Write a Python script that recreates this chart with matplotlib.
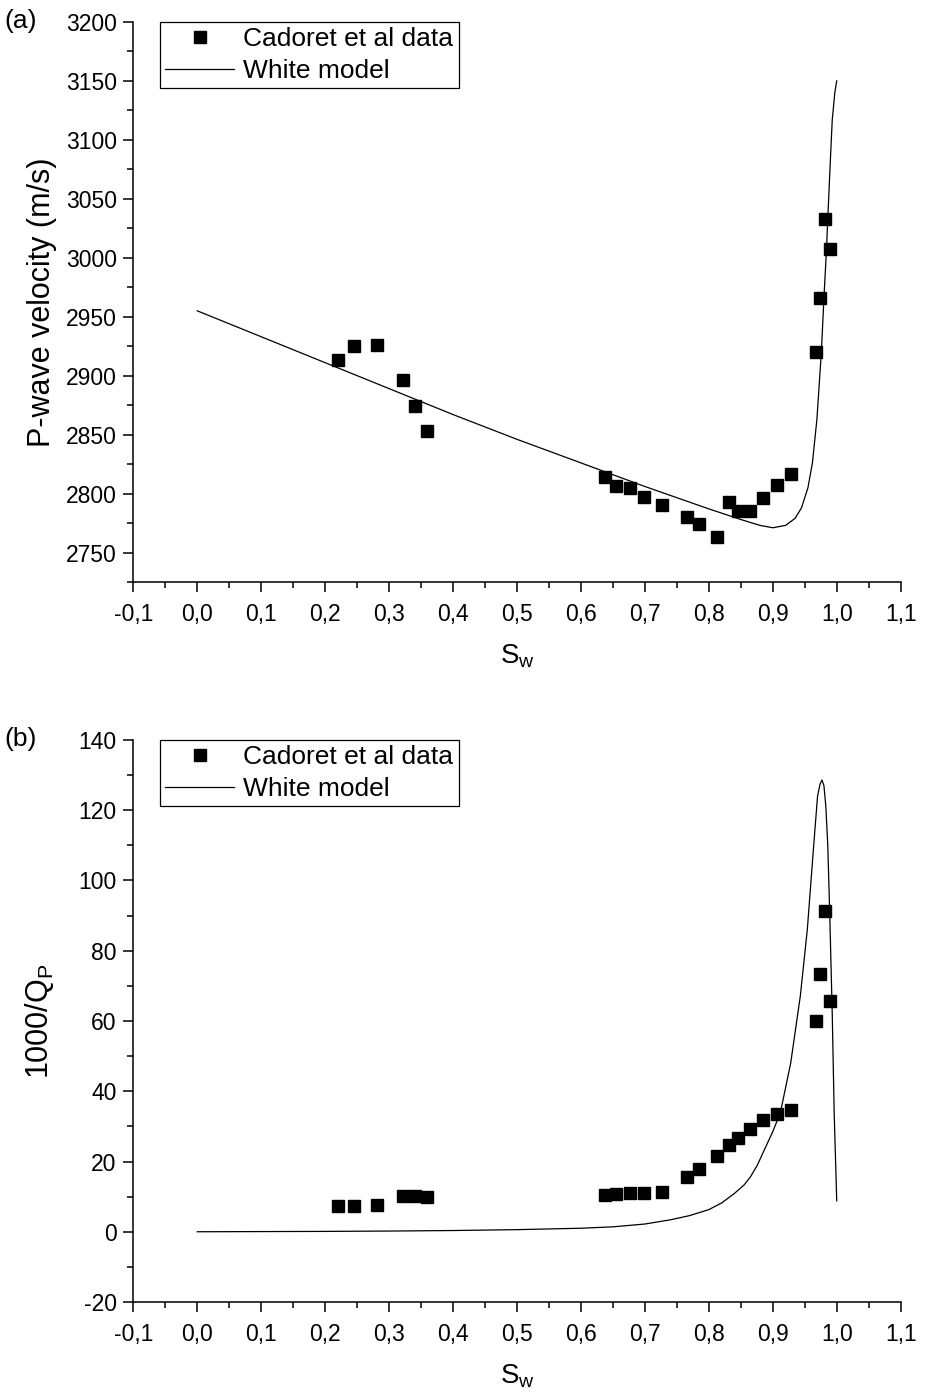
import matplotlib
matplotlib.use("Agg")
import matplotlib.pyplot as plt
from matplotlib.ticker import MultipleLocator, FuncFormatter

plt.rcParams['font.family'] = ['Liberation Sans', 'DejaVu Sans']
plt.rcParams['mathtext.default'] = 'regular'
plt.rcParams['axes.unicode_minus'] = False

# ---- data ----
sw_data = [0.220, 0.245, 0.281, 0.321, 0.341, 0.360, 0.637, 0.655, 0.677, 0.699,
           0.727, 0.766, 0.784, 0.813, 0.831, 0.846, 0.865, 0.885, 0.907, 0.928,
           0.967, 0.974, 0.982, 0.989]
vp_data = [2913, 2925, 2926, 2896, 2874, 2853, 2814, 2806, 2805, 2797,
           2790, 2780, 2774, 2763, 2793, 2785, 2785, 2796, 2807, 2817,
           2920, 2966, 3033, 3007]
q_data = [7.3, 7.4, 7.5, 10.3, 10.2, 10.0, 10.5, 10.7, 10.9, 11.0,
          11.2, 15.7, 17.9, 21.6, 24.7, 26.7, 29.3, 31.8, 33.5, 34.7,
          60.0, 73.3, 91.3, 65.7]

sw_model_v = [0.0, 0.1, 0.2, 0.3, 0.4, 0.5, 0.6, 0.7, 0.8, 0.85, 0.88, 0.9,
              0.92, 0.935, 0.945, 0.955, 0.962, 0.969, 0.976, 0.980, 0.984, 0.986,
              0.990, 0.993, 0.997, 1.0]
vp_model = [2955, 2933, 2911, 2889, 2867, 2846, 2826, 2806, 2787, 2778, 2773, 2771,
            2773, 2779, 2788, 2805, 2826, 2863, 2920, 2966, 3007, 3033,
            3082, 3117, 3140, 3150]

sw_model_q = [0.0, 0.1, 0.2, 0.3, 0.4, 0.5, 0.6, 0.65, 0.7, 0.74, 0.77, 0.8, 0.82,
              0.84, 0.855, 0.865, 0.876, 0.886, 0.9, 0.912, 0.928, 0.943, 0.954,
              0.964, 0.970, 0.974, 0.977, 0.980, 0.983, 0.986, 0.989, 0.993,
              0.996, 1.0]
q_model = [0.0, 0.05, 0.1, 0.2, 0.35, 0.6, 1.0, 1.4, 2.2, 3.4, 4.6, 6.3, 8.2,
           10.9, 13.3, 15.6, 19.0, 23.0, 28.5, 34.0, 48.0, 67.0, 86.0,
           110.0, 124.0, 127.5, 128.6, 127.0, 121.0, 110.0, 91.0, 62.0,
           34.0, 8.8]

x_ticks = [-0.1, 0.0, 0.1, 0.2, 0.3, 0.4, 0.5, 0.6, 0.7, 0.8, 0.9, 1.0, 1.1]

fig = plt.figure(figsize=(9.25, 13.97), dpi=100)
ax1 = fig.add_axes([0.1441, 0.5834, 0.8296, 0.4009])
ax2 = fig.add_axes([0.1441, 0.0680, 0.8296, 0.4023])

comma = FuncFormatter(lambda v, p: ("%.1f" % v).replace('.', ',').replace('-0,0', '0,0'))

def style(ax):
    for s in ['top', 'right']:
        ax.spines[s].set_visible(False)
    for s in ['left', 'bottom']:
        ax.spines[s].set_linewidth(1.1)
    ax.set_xlim(-0.1, 1.1)
    ax.set_xticks(x_ticks)
    ax.xaxis.set_minor_locator(MultipleLocator(0.05))
    ax.xaxis.set_major_formatter(comma)
    ax.tick_params(which='major', direction='out', length=7, width=1.1, labelsize=16.5, pad=5)
    ax.tick_params(axis='x', which='major', pad=8)
    ax.tick_params(which='minor', direction='out', length=4, width=1.1)
    ax.set_xlabel('S$_w$', fontsize=20, labelpad=12)

style(ax1)
ax1.plot(sw_data, vp_data, 's', color='black', markersize=9, label='Cadoret et al data', clip_on=False)
ax1.plot(sw_model_v, vp_model, '-', color='black', linewidth=0.9, label='White model')
ax1.set_ylim(2725, 3200)
ax1.yaxis.set_major_locator(MultipleLocator(50))
ax1.yaxis.set_minor_locator(MultipleLocator(25))
ax1.set_ylabel('P-wave velocity (m/s)', fontsize=22, labelpad=6)

style(ax2)
ax2.plot(sw_data, q_data, 's', color='black', markersize=9, label='Cadoret et al data', clip_on=False)
ax2.plot(sw_model_q, q_model, '-', color='black', linewidth=0.9, label='White model')
ax2.set_ylim(-20, 140)
ax2.yaxis.set_major_locator(MultipleLocator(20))
ax2.yaxis.set_minor_locator(MultipleLocator(10))
ax2.set_ylabel('1000/Q$_P$', fontsize=22, labelpad=16)

for ax in (ax1, ax2):
    leg = ax.legend(loc='upper left', bbox_to_anchor=(0.035, 1.0), borderaxespad=0,
                    fontsize=19, frameon=True, fancybox=False, edgecolor='black',
                    framealpha=1, borderpad=0.2, labelspacing=0.3,
                    handlelength=2.6, handletextpad=0.35, numpoints=1)
    leg.get_frame().set_linewidth(0.9)

fig.text(0.005, 0.985, '(a)', fontsize=19, va='center', ha='left')
fig.text(0.005, 0.471, '(b)', fontsize=19, va='center', ha='left')

fig.savefig('out.png', dpi=100)
